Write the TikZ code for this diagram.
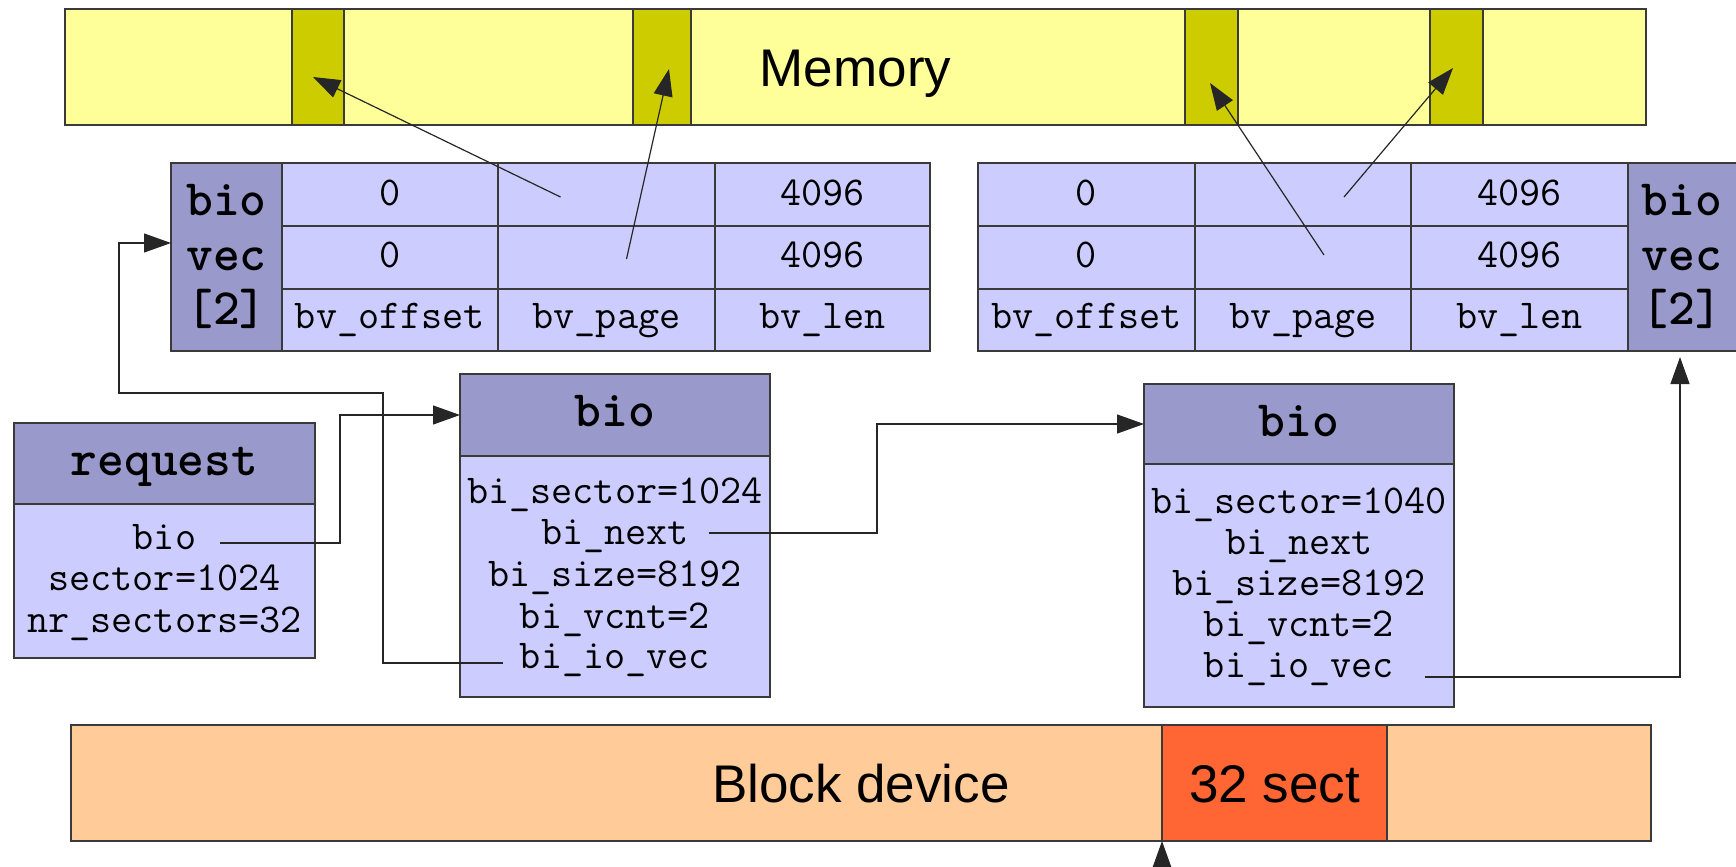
\documentclass[tikz,border=0pt]{standalone}
\usepackage{fontspec}
\setsansfont{Liberation Sans}
\usetikzlibrary{arrows.meta,calc,fit}

\definecolor{memfill}{HTML}{FFFF99}
\definecolor{pagefill}{HTML}{CCCC00}
\definecolor{cellfill}{HTML}{CCCCFF}
\definecolor{headfill}{HTML}{9999CC}
\definecolor{devfill}{HTML}{FFCC99}
\definecolor{sectfill}{HTML}{FF6633}
\definecolor{edge}{HTML}{3A3A3A}

\begin{document}
\begin{tikzpicture}[x=0.5pt,y=-0.5pt,
  box/.style={draw=edge,line width=0.9pt,inner sep=0pt,outer sep=0pt},
  txt/.style={inner sep=0pt,outer sep=0pt,anchor=base,font=\ttfamily\fontsize{20.5}{24}\selectfont},
  hdtxt/.style={inner sep=0pt,outer sep=0pt,anchor=base,font=\ttfamily\bfseries\fontsize{25.5}{30}\selectfont},
  big/.style={inner sep=0pt,outer sep=0pt,anchor=base,font=\sffamily\fontsize{26.5}{32}\selectfont},
  conn/.style={draw=black!85,line width=0.6pt,-{Triangle[length=13.5pt,width=9.5pt]}}]

\useasboundingbox (0,0) rectangle (1736,867);

% ---------------- memory with four pages ----------------
\node[box,fill=memfill,fit={(65,9)(1646,125)}] (mem) {};
\foreach \n/\xa/\xb in {1/292/344,2/633/691,3/1185/1238,4/1430/1483}
  \node[box,fill=pagefill,fit={(\xa,9)(\xb,125)}] (pg\n) {};
\node[big] (mem-t) at (855.5,86) {Memory};

% ---------------- left bio_vec table ----------------
\node[box,fill=headfill,fit={(171,163)(282,351)}] (L-hd) {};
\node[hdtxt] (L-hd-a) at (226.5,215) {bio};
\node[hdtxt] (L-hd-b) at (226.5,270) {vec};
\node[hdtxt] (L-hd-c) at (226.5,324) {[2]};
\foreach \c/\xa/\xb in {1/282/498,2/498/715,3/715/930}
  \foreach \r/\ya/\yb in {1/163/226,2/226/289,3/289/351}
    \node[box,fill=cellfill,fit={(\xa,\ya)(\xb,\yb)}] (L-\r-\c) {};
\node[txt] (L-t11) at (L-1-1 |- 0,205) {0};
\node[txt] (L-t13) at (L-1-3 |- 0,205) {4096};
\node[txt] (L-t21) at (L-2-1 |- 0,267) {0};
\node[txt] (L-t23) at (L-2-3 |- 0,267) {4096};
\node[txt] (L-t31) at (L-3-1 |- 0,328) {bv\_offset};
\node[txt] (L-t32) at (L-3-2 |- 0,328) {bv\_page};
\node[txt] (L-t33) at (L-3-3 |- 0,328) {bv\_len};

% ---------------- right bio_vec table ----------------
\foreach \c/\xa/\xb in {1/978/1195,2/1195/1411,3/1411/1628}
  \foreach \r/\ya/\yb in {1/163/226,2/226/289,3/289/351}
    \node[box,fill=cellfill,fit={(\xa,\ya)(\xb,\yb)}] (R-\r-\c) {};
\node[box,fill=headfill,fit={(1628,163)(1745,351)}] (R-hd) {};
\node[hdtxt] (R-hd-a) at (1682,215) {bio};
\node[hdtxt] (R-hd-b) at (1682,270) {vec};
\node[hdtxt] (R-hd-c) at (1682,324) {[2]};
\node[txt] (R-t11) at (R-1-1 |- 0,205) {0};
\node[txt] (R-t13) at (R-1-3 |- 0,205) {4096};
\node[txt] (R-t21) at (R-2-1 |- 0,267) {0};
\node[txt] (R-t23) at (R-2-3 |- 0,267) {4096};
\node[txt] (R-t31) at (R-3-1 |- 0,328) {bv\_offset};
\node[txt] (R-t32) at (R-3-2 |- 0,328) {bv\_page};
\node[txt] (R-t33) at (R-3-3 |- 0,328) {bv\_len};

% ---------------- request ----------------
\node[box,fill=headfill,fit={(14,423)(315,504)}] (rq-hd) {};
\node[box,fill=cellfill,fit={(14,504)(315,658)}] (rq-body) {};
\node[hdtxt] (rq-t) at (164.5,475) {request};
\node[txt] (rq-bio) at (164.5,549) {bio};
\node[txt] (rq-sec) at (164.5,590) {sector=1024};
\node[txt] (rq-nr) at (164.5,632) {nr\_sectors=32};

% ---------------- first bio ----------------
\node[box,fill=headfill,fit={(460,374)(770,456)}] (b1-hd) {};
\node[box,fill=cellfill,fit={(460,456)(770,697)}] (b1-body) {};
\node[hdtxt] (b1-t) at (615,426) {bio};
\node[txt] (b1-sec) at (615,503) {bi\_sector=1024};
\node[txt] (b1-next) at (615,544) {bi\_next};
\node[txt] (b1-size) at (615,586) {bi\_size=8192};
\node[txt] (b1-vcnt) at (615,628) {bi\_vcnt=2};
\node[txt] (b1-io) at (615,668) {bi\_io\_vec};

% ---------------- second bio ----------------
\node[box,fill=headfill,fit={(1144,384)(1454,464)}] (b2-hd) {};
\node[box,fill=cellfill,fit={(1144,464)(1454,707)}] (b2-body) {};
\node[hdtxt] (b2-t) at (1299,436) {bio};
\node[txt] (b2-sec) at (1299,513) {bi\_sector=1040};
\node[txt] (b2-next) at (1299,554) {bi\_next};
\node[txt] (b2-size) at (1299,595) {bi\_size=8192};
\node[txt] (b2-vcnt) at (1299,636) {bi\_vcnt=2};
\node[txt] (b2-io) at (1299,677) {bi\_io\_vec};

% ---------------- block device ----------------
\node[box,fill=devfill,fit={(71,725)(1651,841)}] (dev) {};
\node[box,fill=sectfill,fit={(1162,725)(1387,841)}] (sect) {};
\node[big] (dev-t) at (861,802) {Block device};
\node[big] (sect-t) at (1274.5,802) {32 sect};
\coordinate (dev-in) at (1162,885);

% ---------------- pointers ----------------
\draw[conn] ($(L-1-2.center)+(-46,2.5)$) -- ($(pg1.center)+(-5,10)$);
\draw[conn] ($(L-2-2.center)+(20,1.5)$) -- ($(pg2.center)+(7,2)$);
\draw[conn] ($(R-2-2.center)+(21,-2.5)$) -- ($(pg3.center)+(-1.5,16)$);
\draw[conn] ($(R-1-2.center)+(41,2.5)$) -- ($(pg4.center)+(-3.5,1)$);

\draw[conn] ($(rq-bio.base east)+(24,-6)$) -| ($(b1-hd.west)+(-120,0)$) -- (b1-hd.west);
\draw[conn] ($(b1-io.base west)+(-17,-5)$) -| (383,393) -| (119,243) -- (L-hd.west |- 0,243);
\draw[conn] ($(b1-next.base east)+(20,-11)$) -| ($(b2-hd.west)+(-267,0)$) -- (b2-hd.west);
\draw[conn] ($(b2-io.base east)+(31,0)$) -| ($(R-hd.south)+(-6.5,6)$);
\draw[conn] (dev-in) -- (sect.south west);

\end{tikzpicture}
\end{document}
